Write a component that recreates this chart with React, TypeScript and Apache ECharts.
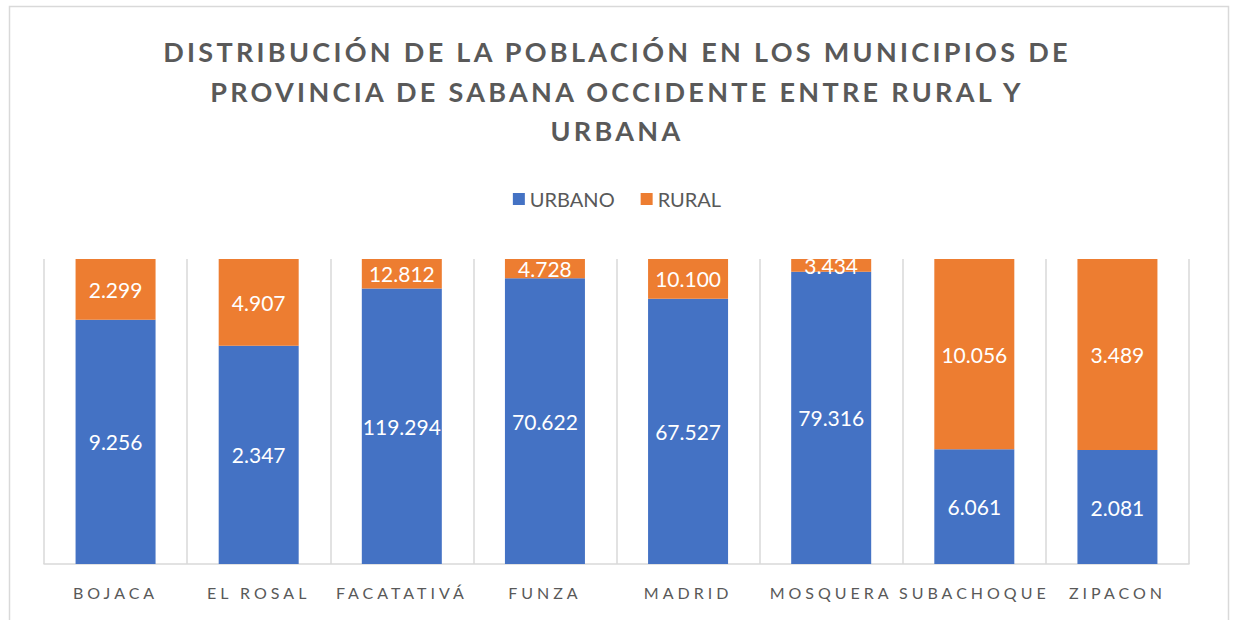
import React, { useEffect, useRef } from "react";
import * as echarts from "echarts";

const categorias = ["BOJACA", "EL ROSAL", "FACATATIVÁ", "FUNZA", "MADRID", "MOSQUERA", "SUBACHOQUE", "ZIPACON"];
const urbano = [9256, 12347, 119294, 70622, 67527, 79316, 6061, 2081];
const rural = [2299, 4907, 12812, 4728, 10100, 3434, 10056, 3489];
const urbanoEtiquetas = ["9.256", "2.347", "119.294", "70.622", "67.527", "79.316", "6.061", "2.081"];
const ruralEtiquetas = ["2.299", "4.907", "12.812", "4.728", "10.100", "3.434", "10.056", "3.489"];
const tituloLineas = [
  "DISTRIBUCIÓN DE LA POBLACIÓN EN LOS MUNICIPIOS DE",
  "PROVINCIA DE SABANA OCCIDENTE ENTRE RURAL Y",
  "URBANA",
];

const FONT = "Lato, 'Open Sans', sans-serif";

export default function App() {
  const ref = useRef<HTMLDivElement>(null);
  useEffect(() => {
    if (!ref.current) return;
    const chart = echarts.init(ref.current, undefined, { renderer: "svg" });
    const totals = urbano.map((u, i) => u + rural[i]);
    const urbPct = urbano.map((u, i) => (u / totals[i]) * 100);
    const rurPct = rural.map((r, i) => (r / totals[i]) * 100);
    chart.setOption({
      animation: false,
      backgroundColor: "#ffffff",
      graphic: [
        {
          type: "rect",
          z: -10,
          shape: { x: 9.5, y: 6.5, width: 1219, height: 700 },
          style: { fill: "none", stroke: "#d9d9d9", lineWidth: 1.5 },
        },
      ],
      title: {
        text: tituloLineas.join("\n"),
        left: "center",
        top: 27,
        textStyle: {
          fontFamily: FONT,
          fontSize: 27,
          fontWeight: "bold",
          color: "#595959",
          lineHeight: 39.5,
        },
      },
      legend: {
        top: 184,
        left: "center",
        itemWidth: 12,
        itemHeight: 12,
        itemGap: 26,
        icon: "rect",
        textStyle: { fontFamily: FONT, fontSize: 20, color: "#595959" },
        data: ["URBANO", "RURAL"],
      },
      grid: { left: 44, right: 45, top: 259, bottom: 56 },
      xAxis: {
        type: "category",
        data: categorias,
        axisLine: { lineStyle: { color: "#d9d9d9", width: 1.5 } },
        axisTick: { show: false },
        splitLine: { show: true, lineStyle: { color: "#d9d9d9", width: 1.5 } },
        axisLabel: {
          fontFamily: FONT,
          fontSize: 16,
          color: "#595959",
          margin: 20,
          interval: 0,
        },
      },
      yAxis: {
        type: "value",
        min: 0,
        max: 100,
        show: false,
        splitLine: { show: false },
      },
      series: [
        {
          name: "URBANO",
          type: "bar",
          stack: "total",
          barWidth: 80,
          data: urbPct,
          itemStyle: { color: "#4472C4" },
          label: {
            show: true,
            position: "inside",
            color: "#ffffff",
            fontFamily: FONT,
            fontSize: 21,
            formatter: (p: any) => urbanoEtiquetas[p.dataIndex],
          },
        },
        {
          name: "RURAL",
          type: "bar",
          stack: "total",
          barWidth: 80,
          data: rurPct,
          itemStyle: { color: "#ED7D31" },
          label: {
            show: true,
            position: "inside",
            color: "#ffffff",
            fontFamily: FONT,
            fontSize: 21,
            formatter: (p: any) => ruralEtiquetas[p.dataIndex],
          },
        },
      ],
    });
    const texts = ref.current.querySelectorAll("text");
    texts.forEach((t) => {
      const c = (t.textContent || "").trim();
      if (categorias.includes(c)) {
        (t as SVGTextElement).style.letterSpacing = "4px";
      } else if (tituloLineas.includes(c)) {
        (t as SVGTextElement).style.letterSpacing = "3.3px";
      }
    });
    return () => chart.dispose();
  }, []);
  return (
    <div
      ref={ref}
      style={{ position: "fixed", left: 0, top: 0, width: 1234, height: 620, background: "#fff" }}
    />
  );
}
